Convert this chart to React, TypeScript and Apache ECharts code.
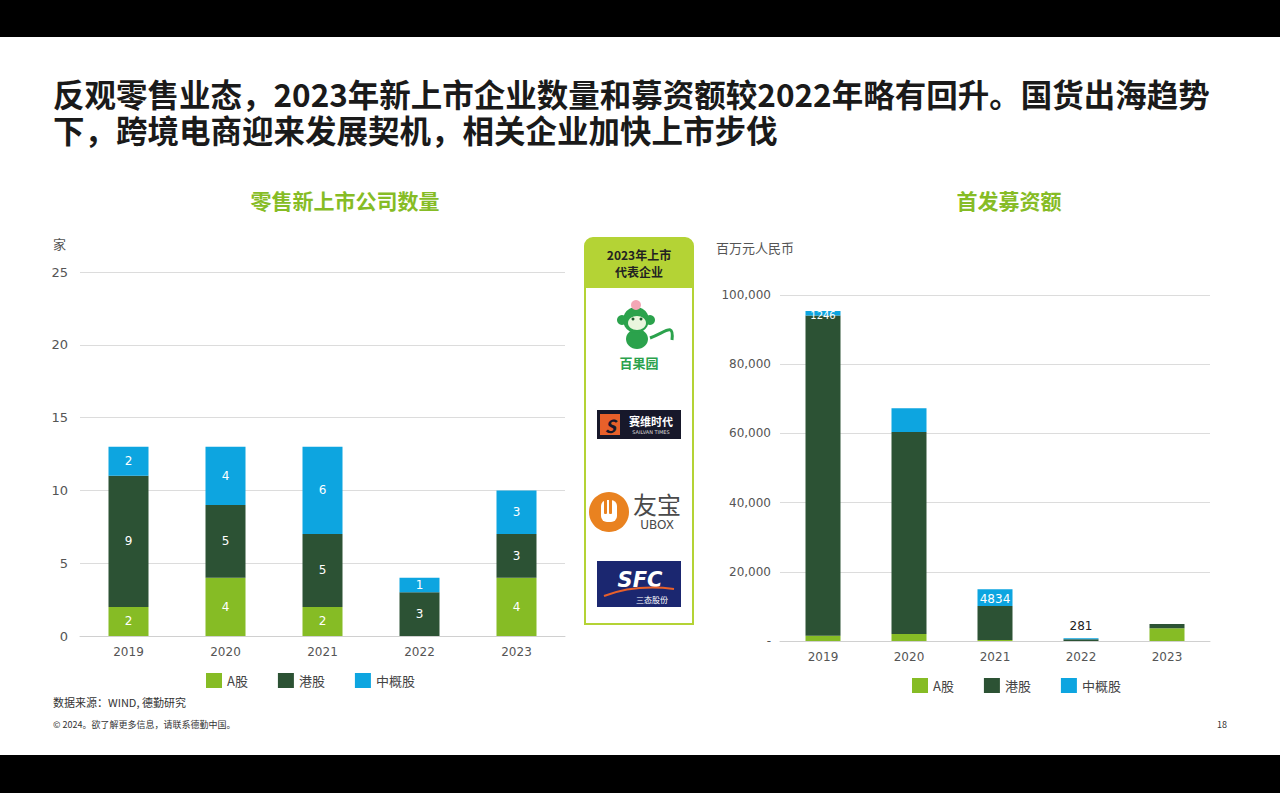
import React, { useEffect, useRef } from "react";
import * as echarts from "echarts";

const years = ["2019", "2020", "2021", "2022", "2023"];
const seriesNames = ["A股", "港股", "中概股"];

// 零售新上市公司数量 (家)
const countA = [2, 4, 2, 0, 4];
const countHK = [9, 5, 5, 3, 3];
const countChina = [2, 4, 6, 1, 3];

// 首发募资额 (百万元人民币)
const fundA = [1500, 2000, 300, 0, 3700];
const fundHK = [92600, 58400, 9800, 500, 1200];
const fundChina = [1246, 6900, 4834, 281, 0];
const fundChinaLabelShown = [true, false, true, true, false];

const countTicks = [0, 5, 10, 15, 20, 25];
const fundTicks = [0, 20000, 40000, 60000, 80000, 100000];

const C_A = "#86BC25";
const C_HK = "#2C5234";
const C_CN = "#0DA5E0";
const FONT = "'Noto Sans CJK SC', 'Noto Sans', sans-serif";
const AXFONT = "'DejaVu Sans', Verdana, sans-serif";

export default function App() {
  const ref = useRef<HTMLDivElement>(null);
  useEffect(() => {
    document.body.style.margin = "0";
    const chart = echarts.init(ref.current!, undefined, { renderer: "svg" });
    const colors = [C_A, C_HK, C_CN];
    const leftSeries = [countA, countHK, countChina].map((d, i) => ({
      name: seriesNames[i],
      type: "bar",
      stack: "L",
      xAxisIndex: 0,
      yAxisIndex: 0,
      barWidth: 40,
      itemStyle: { color: colors[i] },
      label: {
        show: true,
        position: "inside",
        color: "#fff",
        fontSize: 12,
        fontFamily: AXFONT,
        formatter: (p: any) => (p.value > 0 ? String(p.value) : ""),
      },
      data: d,
    }));
    const rightSeries = [fundA, fundHK, fundChina].map((d, i) => ({
      name: seriesNames[i],
      type: "bar",
      stack: "R",
      xAxisIndex: 1,
      yAxisIndex: 1,
      barWidth: 35,
      itemStyle: { color: colors[i] },
      label: { show: false },
      data:
        i === 2
          ? d.map((v, k) => {
              if (!fundChinaLabelShown[k]) return v;
              const big = v > 1000;
              return {
                value: v,
                label: {
                  show: true,
                  position: big ? "insideTop" : "top",
                  distance: big ? (v < 2000 ? -1 : 4) : 6,
                  color: big ? "#fff" : "#222",
                  fontSize: v < 2000 && big ? 10 : 12,
                  fontFamily: AXFONT,
                },
              };
            })
          : d,
    }));

    const logos: any[] = [
      {
        type: "rect",
        shape: { x: 585, y: 238, width: 108, height: 386, r: [8, 8, 0, 0] },
        style: { fill: "#fff", stroke: "#B4D335", lineWidth: 2 },
      },
      {
        type: "rect",
        shape: { x: 585, y: 238, width: 108, height: 50, r: [8, 8, 0, 0] },
        style: { fill: "#B4D335" },
      },
      {
        type: "text",
        x: 639,
        y: 263,
        style: {
          text: "2023年上市\n代表企业",
          fill: "#222",
          font: `bold 12px ${FONT}`,
          align: "center",
          verticalAlign: "middle",
          lineHeight: 17,
        },
      },
      // 百果园 monkey
      {
        type: "bezierCurve",
        shape: { x1: 650, y1: 338, x2: 672, y2: 340, cpx1: 666, cpy1: 332, cpx2: 674, cpy2: 322 },
        style: { stroke: "#2BA24C", lineWidth: 3, fill: "none" },
      },
      { type: "ellipse", shape: { cx: 637, cy: 339, rx: 11, ry: 10 }, style: { fill: "#2BA24C" } },
      { type: "circle", shape: { cx: 636, cy: 320, r: 13 }, style: { fill: "#2BA24C" } },
      { type: "circle", shape: { cx: 622, cy: 320, r: 5 }, style: { fill: "#2BA24C" } },
      { type: "circle", shape: { cx: 650, cy: 320, r: 5 }, style: { fill: "#2BA24C" } },
      { type: "ellipse", shape: { cx: 637, cy: 323, rx: 9, ry: 7 }, style: { fill: "#EAF6DE" } },
      { type: "circle", shape: { cx: 633, cy: 319, r: 1.5 }, style: { fill: "#1d5e2e" } },
      { type: "circle", shape: { cx: 641, cy: 319, r: 1.5 }, style: { fill: "#1d5e2e" } },
      { type: "circle", shape: { cx: 636, cy: 305, r: 5 }, style: { fill: "#F3A7B5" } },
      {
        type: "text",
        x: 639,
        y: 362,
        style: { text: "百果园", fill: "#2BA24C", font: `bold 13px ${FONT}`, align: "center", verticalAlign: "middle" },
      },
      // 赛维时代
      { type: "rect", shape: { x: 597, y: 410, width: 84, height: 29 }, style: { fill: "#17182A" } },
      { type: "rect", shape: { x: 600, y: 414, width: 20, height: 21 }, style: { fill: "#E8602A" } },
      {
        type: "text",
        x: 610,
        y: 425,
        style: { text: "S", fill: "#17182A", font: `italic bold 18px ${FONT}`, align: "center", verticalAlign: "middle" },
      },
      {
        type: "text",
        x: 651,
        y: 421,
        style: { text: "赛维时代", fill: "#fff", font: `bold 11px ${FONT}`, align: "center", verticalAlign: "middle" },
      },
      {
        type: "text",
        x: 651,
        y: 432,
        style: { text: "SAILVAN TIMES", fill: "#ddd", font: `5px ${AXFONT}`, align: "center", verticalAlign: "middle" },
      },
      // 友宝 UBOX
      { type: "circle", shape: { cx: 609, cy: 512, r: 20 }, style: { fill: "#E98220" } },
      { type: "rect", shape: { x: 601, y: 500, width: 16, height: 22, r: 6 }, style: { fill: "#fff" } },
      { type: "rect", shape: { x: 604, y: 498, width: 3, height: 16, r: 1 }, style: { fill: "#E98220" } },
      { type: "rect", shape: { x: 609, y: 498, width: 3, height: 16, r: 1 }, style: { fill: "#E98220" } },
      {
        type: "text",
        x: 657,
        y: 503,
        style: { text: "友宝", fill: "#4A4A4A", font: `24px ${FONT}`, align: "center", verticalAlign: "middle" },
      },
      {
        type: "text",
        x: 657,
        y: 525,
        style: { text: "UBOX", fill: "#4A4A4A", font: `12px ${AXFONT}`, align: "center", verticalAlign: "middle" },
      },
      // SFC 三态股份
      { type: "rect", shape: { x: 597, y: 561, width: 84, height: 46 }, style: { fill: "#1B2770" } },
      {
        type: "text",
        x: 640,
        y: 580,
        style: { text: "SFC", fill: "#fff", font: `italic bold 21px ${AXFONT}`, align: "center", verticalAlign: "middle" },
      },
      {
        type: "bezierCurve",
        shape: { x1: 604, y1: 596, x2: 674, y2: 589, cpx1: 625, cpy1: 588, cpx2: 650, cpy2: 586 },
        style: { stroke: "#E8602A", lineWidth: 2, fill: "none" },
      },
      {
        type: "text",
        x: 652,
        y: 599,
        style: { text: "三态股份", fill: "#fff", font: `8px ${FONT}`, align: "center", verticalAlign: "middle" },
      },
    ];

    chart.setOption({
      animation: false,
      backgroundColor: "#fff",
      graphic: [
        { type: "rect", shape: { x: 0, y: 0, width: 1280, height: 37 }, style: { fill: "#000" } },
        { type: "rect", shape: { x: 0, y: 755, width: 1280, height: 38 }, style: { fill: "#000" } },
        {
          type: "text",
          x: 53,
          y: 111,
          style: {
            text:
              "反观零售业态，2023年新上市企业数量和募资额较2022年略有回升。国货出海趋势\n下，跨境电商迎来发展契机，相关企业加快上市步伐",
            fill: "#1a1a1a",
            font: `bold 31.5px ${FONT}`,
            verticalAlign: "middle",
            lineHeight: 36,
          },
        },
        {
          type: "text",
          x: 345,
          y: 200,
          style: { text: "零售新上市公司数量", fill: C_A, font: `bold 21px ${FONT}`, align: "center", verticalAlign: "middle" },
        },
        {
          type: "text",
          x: 1009,
          y: 200,
          style: { text: "首发募资额", fill: C_A, font: `bold 21px ${FONT}`, align: "center", verticalAlign: "middle" },
        },
        {
          type: "text",
          x: 53,
          y: 243,
          style: { text: "家", fill: "#555", font: `13px ${FONT}`, verticalAlign: "middle" },
        },
        {
          type: "text",
          x: 716,
          y: 247,
          style: { text: "百万元人民币", fill: "#555", font: `13px ${FONT}`, verticalAlign: "middle" },
        },
        {
          type: "text",
          x: 53,
          y: 702,
          style: { text: "数据来源：WIND, 德勤研究", fill: "#333", font: `11px ${FONT}`, verticalAlign: "middle" },
        },
        {
          type: "text",
          x: 53,
          y: 724,
          style: { text: "© 2024。欲了解更多信息，请联系德勤中国。", fill: "#333", font: `9px ${FONT}`, verticalAlign: "middle" },
        },
        {
          type: "text",
          x: 1222,
          y: 724,
          style: { text: "18", fill: "#333", font: `9px ${FONT}`, align: "center", verticalAlign: "middle" },
        },
        ...logos,
      ],
      legend: [
        {
          data: seriesNames,
          left: 201,
          top: 668,
          itemWidth: 16,
          itemHeight: 15,
          itemGap: 30,
          icon: "rect",
          textStyle: { color: "#444", fontSize: 13, fontFamily: FONT },
          selectedMode: false,
        },
        {
          data: seriesNames,
          left: 907,
          top: 673,
          itemWidth: 16,
          itemHeight: 15,
          itemGap: 30,
          icon: "rect",
          textStyle: { color: "#444", fontSize: 13, fontFamily: FONT },
          selectedMode: false,
        },
      ],
      grid: [
        { left: 80, right: 715, top: 272, bottom: 157 },
        { left: 780, right: 70, top: 295, bottom: 152 },
      ],
      xAxis: [
        {
          type: "category",
          gridIndex: 0,
          data: years,
          axisTick: { show: false },
          axisLine: { lineStyle: { color: "#d0d0d0" } },
          axisLabel: { color: "#555", fontSize: 12, fontFamily: AXFONT, margin: 10 },
        },
        {
          type: "category",
          gridIndex: 1,
          data: years,
          axisTick: { show: false },
          axisLine: { lineStyle: { color: "#d0d0d0" } },
          axisLabel: { color: "#555", fontSize: 12, fontFamily: AXFONT, margin: 10 },
        },
      ],
      yAxis: [
        {
          type: "value",
          gridIndex: 0,
          min: countTicks[0],
          max: countTicks[countTicks.length - 1],
          interval: countTicks[1] - countTicks[0],
          axisLine: { show: false },
          axisTick: { show: false },
          splitLine: { lineStyle: { color: "#dcdcdc" } },
          axisLabel: { color: "#555", fontSize: 13, fontFamily: AXFONT, margin: 12, align: "right" },
        },
        {
          type: "value",
          gridIndex: 1,
          min: fundTicks[0],
          max: fundTicks[fundTicks.length - 1],
          interval: fundTicks[1] - fundTicks[0],
          axisLine: { show: false },
          axisTick: { show: false },
          splitLine: { lineStyle: { color: "#dcdcdc" } },
          axisLabel: {
            color: "#555",
            fontSize: 12,
            fontFamily: AXFONT,
            margin: 9,
            formatter: (v: number) => (v === 0 ? "-" : v.toLocaleString("en-US")),
          },
        },
      ],
      series: [...leftSeries, ...rightSeries],
    });
    return () => chart.dispose();
  }, []);
  return <div ref={ref} style={{ position: "fixed", left: 0, top: 0, width: 1280, height: 793 }} />;
}
